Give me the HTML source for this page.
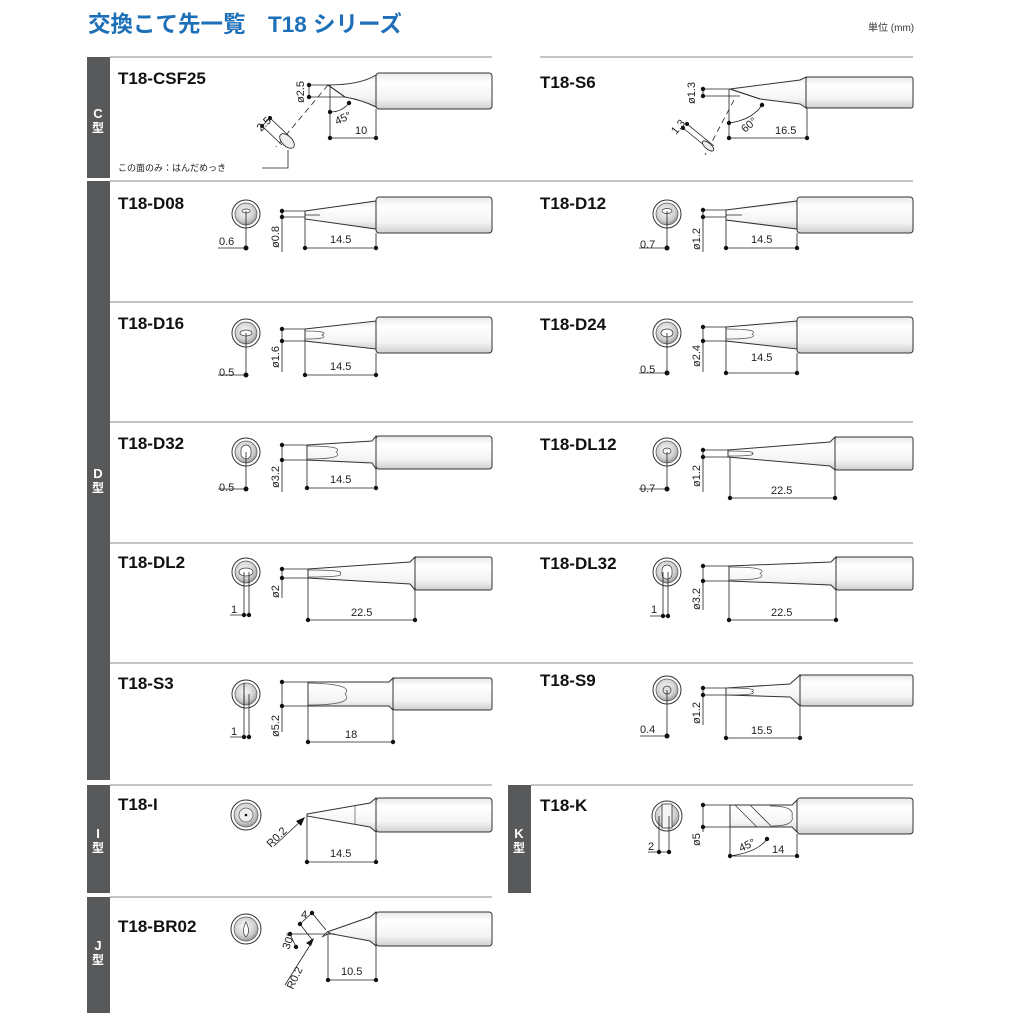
<!DOCTYPE html>
<html><head><meta charset="utf-8"><style>
html,body{margin:0;padding:0;background:#fff;width:1024px;height:1024px;overflow:hidden}
svg{display:block}
text{font-family:"Liberation Sans","Noto Sans CJK JP",sans-serif}
.n{font-size:17px;font-weight:bold;fill:#111}
.d{font-size:11px;fill:#222}
.b{font-size:13px;font-weight:bold;fill:#fff}
.bj{font-size:12px;font-weight:bold;fill:#fff}
.l{stroke:#222;stroke-width:.8;fill:none}
.s{stroke:#333;stroke-width:1;fill:url(#g)}
.sep{stroke:#8a8a8a;stroke-width:1}
</style></head><body>
<svg width="1024" height="1024" viewBox="0 0 1024 1024" xmlns="http://www.w3.org/2000/svg">
<defs>
<linearGradient id="g" x1="0" y1="0" x2="0" y2="1"><stop offset="0" stop-color="#e8e8e8"/><stop offset=".25" stop-color="#fff"/><stop offset=".7" stop-color="#f4f4f4"/><stop offset="1" stop-color="#cfcfcf"/></linearGradient>
<radialGradient id="r" cx=".45" cy=".4" r=".6"><stop offset="0" stop-color="#fafafa"/><stop offset=".7" stop-color="#cfcfcf"/><stop offset="1" stop-color="#999"/></radialGradient>
</defs>
<text x="88" y="32" style="font-size:22.5px;font-weight:bold;fill:#1d6fb8">交換こて先一覧　T18 シリーズ</text>
<text x="868" y="31" style="font-size:10px;fill:#333">単位 (mm)</text>

<g fill="#58595b">
<rect x="87" y="57" width="23" height="121"/><rect x="87" y="181" width="23" height="599"/>
<rect x="87" y="785" width="23" height="108"/><rect x="87" y="897" width="23" height="116"/>
<rect x="508" y="785" width="23" height="108"/></g>
<text class="b" x="98" y="118" text-anchor="middle">C</text><text class="bj" x="98" y="132" text-anchor="middle">型</text>
<text class="b" x="98" y="478" text-anchor="middle">D</text><text class="bj" x="98" y="492" text-anchor="middle">型</text>
<text class="b" x="98" y="838" text-anchor="middle">I</text><text class="bj" x="98" y="852" text-anchor="middle">型</text>
<text class="b" x="98" y="950" text-anchor="middle">J</text><text class="bj" x="98" y="964" text-anchor="middle">型</text>
<text class="b" x="519" y="838" text-anchor="middle">K</text><text class="bj" x="519" y="852" text-anchor="middle">型</text>

<g class="sep">
<line x1="110" y1="57" x2="492" y2="57"/><line x1="540" y1="57" x2="913" y2="57"/>
<line x1="110" y1="181" x2="913" y2="181"/><line x1="110" y1="302" x2="913" y2="302"/>
<line x1="110" y1="422" x2="913" y2="422"/><line x1="110" y1="543" x2="913" y2="543"/>
<line x1="110" y1="663" x2="913" y2="663"/>
<line x1="110" y1="785" x2="492" y2="785"/><line x1="531" y1="785" x2="913" y2="785"/>
<line x1="110" y1="897" x2="492" y2="897"/></g>

<g class="n">
<text x="118" y="84">T18-CSF25</text><text x="540" y="88">T18-S6</text>
<text x="118" y="209">T18-D08</text><text x="540" y="209">T18-D12</text>
<text x="118" y="329">T18-D16</text><text x="540" y="330">T18-D24</text>
<text x="118" y="449">T18-D32</text><text x="540" y="450">T18-DL12</text>
<text x="118" y="568">T18-DL2</text><text x="540" y="569">T18-DL32</text>
<text x="118" y="689">T18-S3</text><text x="540" y="686">T18-S9</text>
<text x="118" y="810">T18-I</text><text x="540" y="811">T18-K</text>
<text x="118" y="932">T18-BR02</text></g>

<!-- CSF25 -->
<rect class="s" x="376" y="73" width="116" height="36" rx="3"/>
<path class="s" d="M328,85 Q360,85 376,75 L376,107 Q362,100 345,97 Z"/>
<g class="l"><path d="M309,85H328M309,97H345M309,85V97M328,85L345,97"/>
<path d="M330,85V138M376,109V138M330,138H376" /><path d="M328,85L276,147" stroke-dasharray="6,4"/>
<path d="M330,112 Q342,112 349,103"/><path d="M288,150V168H262"/><path d="M262,126L270,118M262,126L282,145M270,118L290,137"/></g>
<ellipse cx="287" cy="141" rx="9" ry="5" transform="rotate(45 287 141)" fill="#eee" stroke="#222" stroke-width=".8"/>
<g fill="#111"><circle cx="309" cy="85" r="2.2"/><circle cx="309" cy="97" r="2.2"/><circle cx="330" cy="112" r="2.2"/><circle cx="349" cy="103" r="2.2"/><circle cx="330" cy="138" r="2.2"/><circle cx="376" cy="138" r="2.2"/><circle cx="262" cy="126" r="2"/><circle cx="270" cy="118" r="2"/></g>
<text class="d" transform="translate(304,103) rotate(-90)">ø2.5</text>
<text class="d" transform="translate(337,125) rotate(-25)">45°</text>
<text class="d" x="355" y="134">10</text>
<text class="d" transform="translate(261,132) rotate(-45)">2.5</text>
<text x="118" y="171" style="font-size:9px;fill:#222">この面のみ：はんだめっき</text>

<!-- S6 -->
<rect class="s" x="806" y="77" width="107" height="31" rx="2"/>
<path class="s" d="M730,89 L800,80 L806,77 L806,108 L800,104 L760,99 Z"/>
<g class="l"><path d="M703,89H730M703,96H740M703,89V96M730,89L760,99M729,89V138M807,108V138M729,138H807"/>
<path d="M729,123 Q752,120 762,105"/><path d="M734,100L705,155" stroke-dasharray="6,4"/><path d="M683,128L710,150M687,124L714,146"/></g>
<ellipse cx="708" cy="146" rx="7" ry="3" transform="rotate(40 708 146)" fill="#eee" stroke="#222" stroke-width=".8"/>
<g fill="#111"><circle cx="703" cy="89" r="2.2"/><circle cx="703" cy="96" r="2.2"/><circle cx="729" cy="123" r="2.2"/><circle cx="762" cy="105" r="2.2"/><circle cx="729" cy="138" r="2.2"/><circle cx="807" cy="138" r="2.2"/><circle cx="683" cy="128" r="2"/><circle cx="687" cy="124" r="2"/></g>
<text class="d" transform="translate(695,104) rotate(-90)">ø1.3</text>
<text class="d" transform="translate(745,133) rotate(-40)">60°</text>
<text class="d" x="775" y="134">16.5</text>
<text class="d" transform="translate(676,135) rotate(-50)">1.3</text>

<!-- D08 -->
<circle cx="246" cy="214" r="14" fill="#fff" stroke="#333"/><circle cx="246" cy="214" r="11" fill="url(#r)" stroke="#555" stroke-width=".7"/>
<ellipse cx="246" cy="211" rx="4" ry="2" fill="#fff" stroke="#333" stroke-width=".7"/>
<rect class="s" x="376" y="197" width="116" height="36" rx="3"/>
<path class="s" d="M305,211 L376,201 L376,229 L305,219 Z"/>
<g class="l"><path d="M246,211V248M218,248H246M282,211H305M282,217H305M282,211V252M305,219V248M376,233V248M305,248H376M305,215H320"/></g>
<g fill="#111"><circle cx="246" cy="248" r="2.5"/><circle cx="282" cy="211" r="2.2"/><circle cx="282" cy="217" r="2.2"/><circle cx="305" cy="248" r="2.2"/><circle cx="376" cy="248" r="2.2"/></g>
<text class="d" x="219" y="245">0.6</text><text class="d" transform="translate(279,248) rotate(-90)">ø0.8</text><text class="d" x="330" y="243">14.5</text>

<!-- D12 -->
<circle cx="667" cy="214" r="14" fill="#fff" stroke="#333"/><circle cx="667" cy="214" r="11" fill="url(#r)" stroke="#555" stroke-width=".7"/>
<ellipse cx="667" cy="211" rx="5" ry="2.5" fill="#fff" stroke="#333" stroke-width=".7"/>
<rect class="s" x="797" y="197" width="116" height="36" rx="3"/>
<path class="s" d="M726,210 L797,201 L797,229 L726,220 Z"/>
<g class="l"><path d="M667,211V248M639,248H667M703,210H726M703,217H726M703,210V252M726,220V248M797,233V248M726,248H797M726,215H742"/></g>
<g fill="#111"><circle cx="667" cy="248" r="2.5"/><circle cx="703" cy="210" r="2.2"/><circle cx="703" cy="217" r="2.2"/><circle cx="726" cy="248" r="2.2"/><circle cx="797" cy="248" r="2.2"/></g>
<text class="d" x="640" y="248">0.7</text><text class="d" transform="translate(700,250) rotate(-90)">ø1.2</text><text class="d" x="751" y="243">14.5</text>

<!-- D16 -->
<circle cx="246" cy="333" r="14" fill="#fff" stroke="#333"/><circle cx="246" cy="333" r="11" fill="url(#r)" stroke="#555" stroke-width=".7"/>
<ellipse cx="246" cy="333" rx="6" ry="3" fill="#fff" stroke="#333" stroke-width=".7"/>
<rect class="s" x="376" y="317" width="116" height="36" rx="3"/>
<path class="s" d="M305,329 L376,321 L376,349 L305,341 Z"/>
<path d="M305,331Q330,331 322,335Q330,339 305,339" fill="none" stroke="#555" stroke-width=".7"/>
<g class="l"><path d="M246,333V375M218,375H246M282,329H305M282,341H305M282,329V372M305,341V375M376,353V375M305,375H376"/></g>
<g fill="#111"><circle cx="246" cy="375" r="2.5"/><circle cx="282" cy="329" r="2.2"/><circle cx="282" cy="341" r="2.2"/><circle cx="305" cy="375" r="2.2"/><circle cx="376" cy="375" r="2.2"/></g>
<text class="d" x="219" y="376">0.5</text><text class="d" transform="translate(279,368) rotate(-90)">ø1.6</text><text class="d" x="330" y="370">14.5</text>

<!-- D24 -->
<circle cx="667" cy="333" r="14" fill="#fff" stroke="#333"/><circle cx="667" cy="333" r="11" fill="url(#r)" stroke="#555" stroke-width=".7"/>
<ellipse cx="667" cy="333" rx="6" ry="4" fill="#fff" stroke="#333" stroke-width=".7"/>
<rect class="s" x="797" y="317" width="116" height="36" rx="3"/>
<path class="s" d="M726,327 L797,321 L797,349 L726,341 Z"/>
<path d="M726,329Q760,329 752,334Q760,339 726,339" fill="none" stroke="#555" stroke-width=".7"/>
<g class="l"><path d="M667,333V373M639,373H667M703,327H726M703,341H726M703,327V372M726,341V373M797,353V373M726,373H797"/></g>
<g fill="#111"><circle cx="667" cy="373" r="2.5"/><circle cx="703" cy="327" r="2.2"/><circle cx="703" cy="341" r="2.2"/><circle cx="726" cy="373" r="2.2"/><circle cx="797" cy="373" r="2.2"/></g>
<text class="d" x="640" y="373">0.5</text><text class="d" transform="translate(700,367) rotate(-90)">ø2.4</text><text class="d" x="751" y="361">14.5</text>

<!-- D32 -->
<circle cx="246" cy="452" r="14" fill="#fff" stroke="#333"/><circle cx="246" cy="452" r="11" fill="url(#r)" stroke="#555" stroke-width=".7"/>
<rect x="241" y="445" width="10" height="14" rx="5" fill="#fff" stroke="#333" stroke-width=".7"/>
<rect class="s" x="376" y="436" width="116" height="33" rx="3"/>
<path class="s" d="M307,445 L372,441 L376,436 L376,469 L372,463 L307,460 Z"/>
<path d="M307,446Q345,446 336,452Q345,459 307,459" fill="none" stroke="#555" stroke-width=".7"/>
<g class="l"><path d="M246,452V489M218,489H246M282,445H307M282,460H307M282,445V492M307,460V488M376,469V488M307,488H376"/></g>
<g fill="#111"><circle cx="246" cy="489" r="2.5"/><circle cx="282" cy="445" r="2.2"/><circle cx="282" cy="460" r="2.2"/><circle cx="307" cy="488" r="2.2"/><circle cx="376" cy="488" r="2.2"/></g>
<text class="d" x="219" y="491">0.5</text><text class="d" transform="translate(279,488) rotate(-90)">ø3.2</text><text class="d" x="330" y="483">14.5</text>

<!-- DL12 -->
<circle cx="667" cy="452" r="14" fill="#fff" stroke="#333"/><circle cx="667" cy="452" r="11" fill="url(#r)" stroke="#555" stroke-width=".7"/>
<ellipse cx="667" cy="451" rx="4" ry="3" fill="#fff" stroke="#333" stroke-width=".7"/>
<rect class="s" x="835" y="437" width="78" height="33" rx="2"/>
<path class="s" d="M728,450 L830,442 L835,437 L835,470 L830,466 L728,457 Z"/>
<path d="M728,451Q758,451 752,453.5Q758,456 728,456" fill="none" stroke="#555" stroke-width=".7"/>
<g class="l"><path d="M667,452V489M639,489H667M703,450H728M703,457H728M703,450V492M730,457V498M835,470V498M730,498H835"/></g>
<g fill="#111"><circle cx="667" cy="489" r="2.5"/><circle cx="703" cy="450" r="2.2"/><circle cx="703" cy="457" r="2.2"/><circle cx="730" cy="498" r="2.2"/><circle cx="835" cy="498" r="2.2"/></g>
<text class="d" x="640" y="492">0.7</text><text class="d" transform="translate(700,487) rotate(-90)">ø1.2</text><text class="d" x="771" y="494">22.5</text>

<!-- DL2 -->
<circle cx="246" cy="572" r="14" fill="#fff" stroke="#333"/><circle cx="246" cy="572" r="11" fill="url(#r)" stroke="#555" stroke-width=".7"/>
<ellipse cx="246" cy="572" rx="7" ry="4" fill="#fff" stroke="#333" stroke-width=".7"/>
<rect class="s" x="415" y="557" width="77" height="33" rx="2"/>
<path class="s" d="M308,569 L410,562 L415,557 L415,590 L410,584 L308,578 Z"/>
<path d="M308,570Q346,570 340,573.5Q346,577 308,577" fill="none" stroke="#555" stroke-width=".7"/>
<g class="l"><path d="M244,572V615M249,572V615M230,615H249M282,569H308M282,578H308M282,569V598M308,578V620M415,590V620M308,620H415"/></g>
<g fill="#111"><circle cx="244" cy="615" r="2.2"/><circle cx="249" cy="615" r="2.2"/><circle cx="282" cy="569" r="2.2"/><circle cx="282" cy="578" r="2.2"/><circle cx="308" cy="620" r="2.2"/><circle cx="415" cy="620" r="2.2"/></g>
<text class="d" x="231" y="613">1</text><text class="d" transform="translate(279,598) rotate(-90)">ø2</text><text class="d" x="351" y="616">22.5</text>

<!-- DL32 -->
<circle cx="667" cy="572" r="14" fill="#fff" stroke="#333"/><circle cx="667" cy="572" r="11" fill="url(#r)" stroke="#555" stroke-width=".7"/>
<rect x="662" y="565" width="10" height="14" rx="5" fill="#fff" stroke="#333" stroke-width=".7"/>
<rect class="s" x="836" y="557" width="77" height="33" rx="2"/>
<path class="s" d="M729,566 L831,562 L836,557 L836,590 L831,585 L729,581 Z"/>
<path d="M729,567Q770,567 760,573.5Q770,580 729,580" fill="none" stroke="#555" stroke-width=".7"/>
<g class="l"><path d="M663,572V616M668,572V616M650,616H668M703,566H729M703,581H729M703,566V610M729,581V620M836,590V620M729,620H836"/></g>
<g fill="#111"><circle cx="663" cy="616" r="2.2"/><circle cx="668" cy="616" r="2.2"/><circle cx="703" cy="566" r="2.2"/><circle cx="703" cy="581" r="2.2"/><circle cx="729" cy="620" r="2.2"/><circle cx="836" cy="620" r="2.2"/></g>
<text class="d" x="651" y="613">1</text><text class="d" transform="translate(700,610) rotate(-90)">ø3.2</text><text class="d" x="771" y="616">22.5</text>

<!-- S3 -->
<circle cx="246" cy="694" r="14" fill="#fff" stroke="#333"/><circle cx="246" cy="694" r="11" fill="url(#r)" stroke="#555" stroke-width=".7"/>
<path d="M244,683V705" stroke="#333" stroke-width="1"/>
<rect class="s" x="393" y="678" width="99" height="32" rx="2"/>
<path class="s" d="M308,682 L389,682 L393,678 L393,710 L389,706 L308,706 Z"/>
<path d="M308,683Q355,684 345,694Q355,705 308,705" fill="none" stroke="#555" stroke-width=".7"/>
<g class="l"><path d="M244,694V737M249,694V737M230,737H249M282,682H308M282,706H308M282,682V732M308,706V742M393,710V742M308,742H393"/></g>
<g fill="#111"><circle cx="244" cy="737" r="2.2"/><circle cx="249" cy="737" r="2.2"/><circle cx="282" cy="682" r="2.2"/><circle cx="282" cy="706" r="2.2"/><circle cx="308" cy="742" r="2.2"/><circle cx="393" cy="742" r="2.2"/></g>
<text class="d" x="231" y="735">1</text><text class="d" transform="translate(279,737) rotate(-90)">ø5.2</text><text class="d" x="345" y="738">18</text>

<!-- S9 -->
<circle cx="667" cy="690" r="14" fill="#fff" stroke="#333"/><circle cx="667" cy="690" r="11" fill="url(#r)" stroke="#555" stroke-width=".7"/>
<circle cx="667" cy="690" r="4" fill="#ddd" stroke="#333" stroke-width=".7"/>
<rect class="s" x="800" y="675" width="113" height="31" rx="2"/>
<path class="s" d="M726,688 L790,684 L800,675 L800,706 L790,697 L726,695 Z"/>
<path d="M726,688Q760,688 752,691.5Q760,695 726,695" fill="none" stroke="#555" stroke-width=".7"/>
<g class="l"><path d="M667,690V736M640,736H667M703,688H726M703,695H726M703,688V725M726,695V738M800,706V738M726,738H800"/></g>
<g fill="#111"><circle cx="667" cy="736" r="2.5"/><circle cx="703" cy="688" r="2.2"/><circle cx="703" cy="695" r="2.2"/><circle cx="726" cy="738" r="2.2"/><circle cx="800" cy="738" r="2.2"/></g>
<text class="d" x="640" y="733">0.4</text><text class="d" transform="translate(700,724) rotate(-90)">ø1.2</text><text class="d" x="751" y="734">15.5</text>

<!-- I -->
<circle cx="246" cy="815" r="15" fill="#fff" stroke="#333"/><circle cx="246" cy="815" r="12" fill="url(#r)" stroke="#555" stroke-width=".7"/><circle cx="246" cy="815" r="7" fill="#eee" stroke="#555" stroke-width=".7"/><circle cx="246" cy="815" r="1.3" fill="#111"/>
<rect class="s" x="376" y="798" width="116" height="34" rx="3"/>
<path class="s" d="M307,814 L370,803 L376,798 L376,832 L370,827 L307,816 Z"/>
<path d="M355,806V824" stroke="#555" stroke-width=".7"/>
<g class="l"><path d="M307,816V862M376,832V862M307,862H376M274,846L302,820"/></g>
<path d="M305,817L296,821L301,826Z" fill="#111"/>
<g fill="#111"><circle cx="307" cy="862" r="2.2"/><circle cx="376" cy="862" r="2.2"/></g>
<text class="d" transform="translate(271,848) rotate(-45)">R0.2</text><text class="d" x="330" y="857">14.5</text>

<!-- K -->
<circle cx="667" cy="816" r="15" fill="#fff" stroke="#333"/><circle cx="667" cy="816" r="12" fill="url(#r)" stroke="#555" stroke-width=".7"/>
<rect x="662" y="804" width="10" height="24" fill="#f4f4f4" stroke="#333" stroke-width=".8"/>
<rect class="s" x="797" y="798" width="116" height="36" rx="3"/>
<path class="s" d="M730,805 L792,805 L797,800 L797,832 L792,827 L730,827 Z"/>
<path d="M735,805L757,827M750,805L772,827" stroke="#444" stroke-width=".8"/>
<path d="M770,806Q795,806 792,816Q795,826 772,826" fill="none" stroke="#555" stroke-width=".7"/>
<g class="l"><path d="M659,816V852M669,816V852M648,852H669M703,805H730M703,827H730M703,805V832M730,827V856M797,834V856M730,856H797M730,856Q758,852 767,839"/></g>
<g fill="#111"><circle cx="659" cy="852" r="2.2"/><circle cx="669" cy="852" r="2.2"/><circle cx="703" cy="805" r="2.2"/><circle cx="703" cy="827" r="2.2"/><circle cx="730" cy="856" r="2.2"/><circle cx="797" cy="856" r="2.2"/><circle cx="767" cy="839" r="2.2"/></g>
<text class="d" x="648" y="850">2</text><text class="d" transform="translate(700,846) rotate(-90)">ø5</text><text class="d" transform="translate(741,852) rotate(-25)">45°</text><text class="d" x="772" y="853">14</text>

<!-- BR02 -->
<circle cx="246" cy="929" r="15" fill="#fff" stroke="#333"/><circle cx="246" cy="929" r="12" fill="url(#r)" stroke="#555" stroke-width=".7"/>
<path d="M246,922Q251,932 246,937Q241,932 246,922Z" fill="#fff" stroke="#333" stroke-width=".7"/>
<rect class="s" x="376" y="912" width="116" height="34" rx="3"/>
<path class="s" d="M327,932 L370,917 L376,912 L376,946 L370,941 L327,933 Z"/>
<path d="M322,937 L327,932 L330,933 Z" fill="#fff" stroke="#333" stroke-width=".7"/>
<g class="l"><path d="M290,934H335M290,934L296,947M300,924L312,913L326,930M300,924L313,941M328,934V980M376,946V980M328,980H376M285,985L312,942"/></g>
<path d="M314,938L306,943L311,946Z" fill="#111"/>
<g fill="#111"><circle cx="290" cy="934" r="2.2"/><circle cx="296" cy="947" r="2.2"/><circle cx="300" cy="924" r="2.2"/><circle cx="312" cy="913" r="2.2"/><circle cx="328" cy="980" r="2.2"/><circle cx="376" cy="980" r="2.2"/></g>
<text class="d" transform="translate(289,950) rotate(-70)">30°</text><text class="d" x="301" y="918">4</text>
<text class="d" transform="translate(293,990) rotate(-65)">R0.2</text><text class="d" x="341" y="975">10.5</text>
</svg>
</body></html>
